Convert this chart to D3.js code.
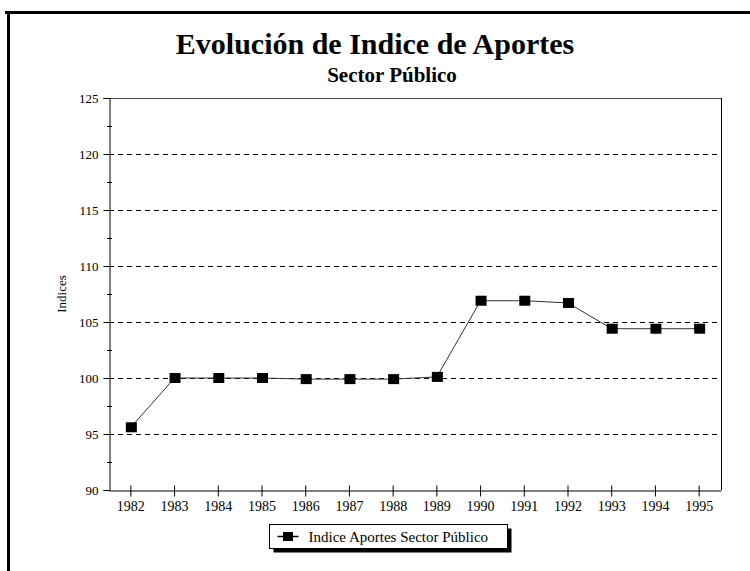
<!DOCTYPE html>
<html>
<head>
<meta charset="utf-8">
<script src="https://cdn.jsdelivr.net/npm/d3@7"></script>
<style>
  body { margin: 0; background: #fff; }
  svg { display: block; }
  svg text { font-family: "Liberation Serif", "Times New Roman", serif; }
</style>
</head>
<body>
<div id="chart"></div>
<script>
// chart data
const years = ["1982", "1983", "1984", "1985", "1986", "1987", "1988",
               "1989", "1990", "1991", "1992", "1993", "1994", "1995"];
const indices = [95.6, 100, 100, 100, 99.9, 99.9, 99.9,
                 100.1, 106.9, 106.9, 106.7, 104.4, 104.4, 104.4];
const yTicks = [90, 95, 100, 105, 110, 115, 120, 125];
const seriesName = "Indice Aportes Sector Público";

const W = 750, H = 571;
const margin = { top: 98, right: 29, bottom: 81, left: 109 };
const width = W - margin.left - margin.right;
const height = H - margin.top - margin.bottom;

const svg = d3.select("#chart").append("svg")
    .attr("width", W)
    .attr("height", H);

// outer frame (top and left only visible)
svg.append("line").attr("x1", 5).attr("x2", W).attr("y1", 12.5).attr("y2", 12.5)
    .attr("stroke", "#000").attr("stroke-width", 3);
svg.append("line").attr("x1", 8.5).attr("x2", 8.5).attr("y1", 11).attr("y2", H)
    .attr("stroke", "#000").attr("stroke-width", 3);

// titles
svg.append("text")
    .attr("x", 375).attr("y", 54)
    .attr("text-anchor", "middle")
    .style("font-size", "30px").style("font-weight", "bold")
    .text("Evolución de Indice de Aportes");
svg.append("text")
    .attr("x", 392).attr("y", 82)
    .attr("text-anchor", "middle")
    .style("font-size", "21px").style("font-weight", "bold")
    .text("Sector Público");

const g = svg.append("g")
    .attr("transform", `translate(${margin.left},${margin.top})`);

const x = d3.scaleBand().domain(years).range([0, width]);
const y = d3.scaleLinear().domain([90, 125]).range([height, 0]);
const py = v => Math.round(y(v)) + 0.5;

// dashed grid
g.selectAll(".grid")
    .data(yTicks.filter(d => d > 90 && d < 125))
    .enter().append("line")
    .attr("class", "grid")
    .attr("x1", 0).attr("x2", width)
    .attr("y1", d => py(d)).attr("y2", d => py(d))
    .attr("stroke", "#000").attr("stroke-dasharray", "5,4");

// plot frame top/right
g.append("line").attr("x1", 0).attr("x2", width).attr("y1", 0.5).attr("y2", 0.5)
    .attr("stroke", "#444");
g.append("line").attr("x1", width + 0.5).attr("x2", width + 0.5).attr("y1", 0).attr("y2", height)
    .attr("stroke", "#000");

// y axis
const yAxis = g.append("g")
    .attr("transform", "translate(0.5,0)")
    .call(d3.axisLeft(y).tickValues(yTicks).tickSize(6).tickPadding(5));
yAxis.select(".domain").attr("stroke", "#000");
yAxis.selectAll("text").style("font-size", "13px")
    .style("font-family", "'Liberation Serif', serif");

// minor ticks
g.selectAll(".minor")
    .data(d3.range(92.5, 125, 5))
    .enter().append("line")
    .attr("x1", -2).attr("x2", 3)
    .attr("y1", d => py(d)).attr("y2", d => py(d))
    .attr("stroke", "#000");

// x axis
const xAxis = g.append("g")
    .attr("transform", `translate(0,${height + 0.5})`)
    .call(d3.axisBottom(x).tickSize(6).tickSizeOuter(0).tickPadding(5));
xAxis.selectAll(".tick line").attr("y1", -5);
xAxis.selectAll("text").style("font-size", "14px")
    .style("font-family", "'Liberation Serif', serif");

// y label
svg.append("text")
    .attr("transform", `translate(66,${margin.top + y(107.5)}) rotate(-90)`)
    .attr("text-anchor", "middle")
    .style("font-size", "13px")
    .text("Indices");

// line + markers
const line = d3.line()
    .x((d, i) => x(years[i]) + x.bandwidth() / 2)
    .y(d => y(d));

g.append("path")
    .datum(indices)
    .attr("fill", "none")
    .attr("stroke", "#333")
    .attr("stroke-width", 1)
    .attr("d", line);

g.selectAll(".pt")
    .data(indices)
    .enter().append("rect")
    .attr("class", "pt")
    .attr("x", (d, i) => x(years[i]) + x.bandwidth() / 2 - 5)
    .attr("y", d => y(d) - 5)
    .attr("width", 11).attr("height", 10)
    .attr("fill", "#000");

// legend
const lg = svg.append("g").attr("transform", "translate(269.5,524.5)");
lg.append("rect").attr("x", 4).attr("y", 4).attr("width", 238).attr("height", 24).attr("fill", "#000");
lg.append("rect").attr("x", 0).attr("y", 0).attr("width", 238).attr("height", 24)
    .attr("fill", "#fff").attr("stroke", "#000");
lg.append("line").attr("x1", 8).attr("x2", 29).attr("y1", 12).attr("y2", 12)
    .attr("stroke", "#000").attr("stroke-width", 1.5);
lg.append("rect").attr("x", 13.5).attr("y", 7.5).attr("width", 10).attr("height", 9).attr("fill", "#000");
lg.append("text").attr("x", 39).attr("y", 17).style("font-size", "15px").text(seriesName);
</script>
</body>
</html>
